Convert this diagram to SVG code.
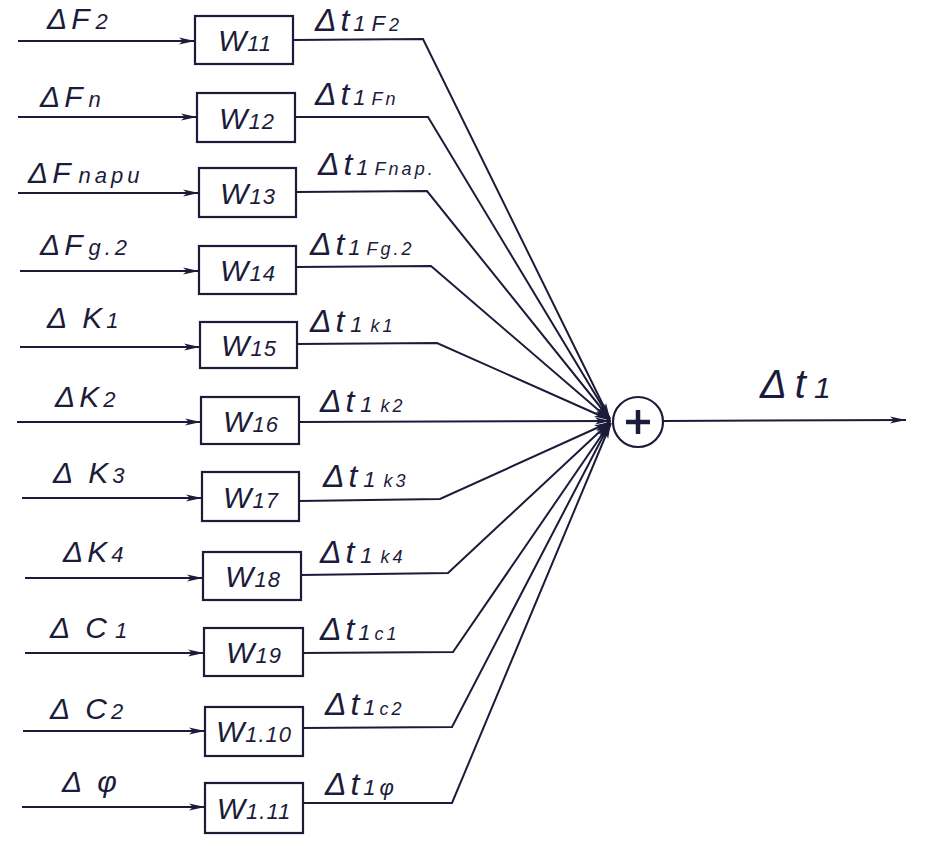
<svg xmlns="http://www.w3.org/2000/svg" width="925" height="853" viewBox="0 0 925 853">
<defs>
<style>
.ln{stroke:#1c1c3a;stroke-width:2;fill:none}
.box{stroke:#1c1c3a;stroke-width:2.2;fill:#fff}
.t{font-family:"Liberation Sans",Arial,sans-serif;font-style:italic;fill:#1c1c3a}
.lbl{font-size:30px;letter-spacing:4px}
.olbl{font-size:32px;letter-spacing:4px}
.w{font-size:30px;text-anchor:middle;letter-spacing:1px}
.s{font-size:22px}
.ss{font-size:18px;letter-spacing:3px}
</style>
<marker id="ah" viewBox="0 0 16 8" refX="16" refY="4" markerWidth="16" markerHeight="8" markerUnits="userSpaceOnUse" orient="auto">
<path d="M0,0.5 L16,4 L0,7.5 L4,4 Z" fill="#1c1c3a"/>
</marker>
</defs>
<rect width="925" height="853" fill="#fff"/>

<g id="connectors">
<line class="ln" x1="18" y1="41" x2="195" y2="41" marker-end="url(#ah)"/>
<line class="ln" x1="18" y1="117" x2="197" y2="117" marker-end="url(#ah)"/>
<line class="ln" x1="18" y1="193" x2="199" y2="193" marker-end="url(#ah)"/>
<line class="ln" x1="20" y1="271" x2="199" y2="271" marker-end="url(#ah)"/>
<line class="ln" x1="20" y1="347" x2="200" y2="347" marker-end="url(#ah)"/>
<line class="ln" x1="17" y1="422" x2="201" y2="422" marker-end="url(#ah)"/>
<line class="ln" x1="22" y1="498" x2="202" y2="498" marker-end="url(#ah)"/>
<line class="ln" x1="25" y1="578" x2="203" y2="578" marker-end="url(#ah)"/>
<line class="ln" x1="25" y1="653" x2="204" y2="653" marker-end="url(#ah)"/>
<line class="ln" x1="23" y1="731" x2="205" y2="731" marker-end="url(#ah)"/>
<line class="ln" x1="22" y1="807" x2="205" y2="807" marker-end="url(#ah)"/>
<polyline class="ln" points="293,40 423,39 610,419" marker-end="url(#ah)"/>
<polyline class="ln" points="295,117 428,117 610,419" marker-end="url(#ah)"/>
<polyline class="ln" points="296,192 427,191 610,419" marker-end="url(#ah)"/>
<polyline class="ln" points="296,267 431,266 610,420" marker-end="url(#ah)"/>
<polyline class="ln" points="297,344 437,343 610,420" marker-end="url(#ah)"/>
<line class="ln" x1="299" y1="422" x2="611" y2="421" marker-end="url(#ah)"/>
<polyline class="ln" points="299,501 440,499 610,422" marker-end="url(#ah)"/>
<polyline class="ln" points="301,575 448,573 610,422" marker-end="url(#ah)"/>
<polyline class="ln" points="303,653 453,652 610,423" marker-end="url(#ah)"/>
<polyline class="ln" points="303,728 452,727 610,423" marker-end="url(#ah)"/>
<polyline class="ln" points="303,803 452,803 611,423" marker-end="url(#ah)"/>
<line class="ln" x1="663" y1="421" x2="906" y2="420" marker-end="url(#ah)"/>
</g>

<g id="n1"><rect class="box" x="195" y="16" width="98" height="48"/><text class="t w" x="245" y="51">W<tspan class="s">11</tspan></text></g>
<g id="n2"><rect class="box" x="197" y="93" width="98" height="49"/><text class="t w" x="247" y="129">W<tspan class="s">12</tspan></text></g>
<g id="n3"><rect class="box" x="199" y="168" width="97" height="49"/><text class="t w" x="248" y="204">W<tspan class="s">13</tspan></text></g>
<g id="n4"><rect class="box" x="199" y="246" width="97" height="48"/><text class="t w" x="248" y="281">W<tspan class="s">14</tspan></text></g>
<g id="n5"><rect class="box" x="200" y="322" width="97" height="46"/><text class="t w" x="249" y="356">W<tspan class="s">15</tspan></text></g>
<g id="n6"><rect class="box" x="201" y="397" width="98" height="47"/><text class="t w" x="251" y="432">W<tspan class="s">16</tspan></text></g>
<g id="n7"><rect class="box" x="202" y="472" width="97" height="49"/><text class="t w" x="251" y="508">W<tspan class="s">17</tspan></text></g>
<g id="n8"><rect class="box" x="203" y="552" width="98" height="48"/><text class="t w" x="253" y="587">W<tspan class="s">18</tspan></text></g>
<g id="n9"><rect class="box" x="204" y="628" width="99" height="48"/><text class="t w" x="254" y="663">W<tspan class="s">19</tspan></text></g>
<g id="n10"><rect class="box" x="205" y="707" width="98" height="49"/><text class="t w" x="254" y="742">W<tspan class="s">1.10</tspan></text></g>
<g id="n11"><rect class="box" x="205" y="783" width="98" height="50"/><text class="t w" x="254" y="819">W<tspan class="s">1.11</tspan></text></g>

<g id="sum">
<circle cx="638" cy="422" r="25" fill="#fff" stroke="#1c1c3a" stroke-width="2.2"/>
<path d="M626,422 H650 M638,410 V434" stroke="#1c1c3a" stroke-width="4.5" fill="none"/>
</g>

<g id="input-labels" class="t lbl">
<text x="47" y="29">ΔF<tspan class="s" dx="2">2</tspan></text>
<text x="40" y="107">ΔF<tspan class="s" dx="2">n</tspan></text>
<text x="28" y="183">ΔF<tspan class="s" dx="4">napu</tspan></text>
<text x="40" y="255">ΔF<tspan class="s" dx="2">g.2</tspan></text>
<text x="47" y="328">Δ K<tspan class="s">1</tspan></text>
<text x="55" y="407">ΔK<tspan class="s">2</tspan></text>
<text x="53" y="483">Δ K<tspan class="s">3</tspan></text>
<text x="63" y="562">ΔK<tspan class="s">4</tspan></text>
<text x="50" y="638">Δ C<tspan class="s" dx="4">1</tspan></text>
<text x="50" y="719">Δ C<tspan class="s">2</tspan></text>
<text x="62" y="792">Δ φ</text>
</g>

<g id="output-labels" class="t olbl">
<text x="315" y="31">Δt<tspan class="s">1</tspan><tspan class="s" dx="2">F</tspan><tspan class="ss">2</tspan></text>
<text x="315" y="105">Δt<tspan class="s">1</tspan><tspan class="ss" dx="2">Fn</tspan></text>
<text x="318" y="175">Δt<tspan class="s">1</tspan><tspan class="ss" dx="2" letter-spacing="1px">Fnap.</tspan></text>
<text x="310" y="255">Δt<tspan class="s">1</tspan><tspan class="ss" dx="2" letter-spacing="1px">Fg.2</tspan></text>
<text x="310" y="332">Δt<tspan class="s" dx="2">1</tspan><tspan class="ss" dx="4">k1</tspan></text>
<text x="320" y="412">Δt<tspan class="s" dx="2">1</tspan><tspan class="ss" dx="4">k2</tspan></text>
<text x="323" y="487">Δt<tspan class="s" dx="2">1</tspan><tspan class="ss" dx="4">k3</tspan></text>
<text x="320" y="563">Δt<tspan class="s" dx="2">1</tspan><tspan class="ss" dx="4">k4</tspan></text>
<text x="320" y="640">Δt<tspan class="s">1</tspan><tspan class="ss">c1</tspan></text>
<text x="325" y="715">Δt<tspan class="s">1</tspan><tspan class="ss">c2</tspan></text>
<text x="325" y="795">Δt<tspan class="s">1</tspan><tspan class="s">φ</tspan></text>
<text x="760" y="398" font-size="40px" letter-spacing="8px">Δt<tspan font-size="30px">1</tspan></text>
</g>
</svg>
